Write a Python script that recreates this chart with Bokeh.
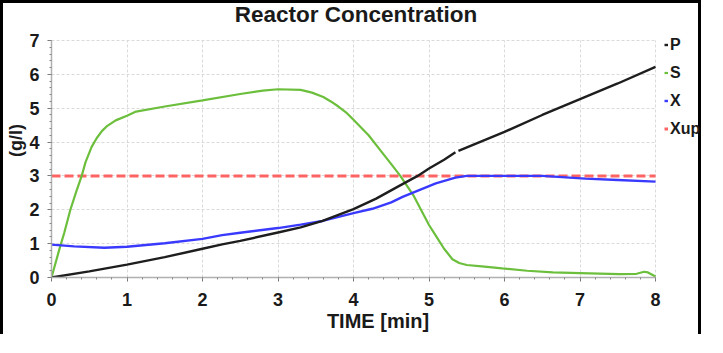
import numpy as np
from bokeh.plotting import figure
from bokeh.models import Range1d, Legend, LegendItem, SingleIntervalTicker, Label, Grid
from bokeh.embed import file_html
from bokeh.resources import INLINE

# ---- data ----
t_P = [0, 0.5, 1, 1.5, 2, 2.26, 2.5, 3, 3.3, 3.59, 4, 4.3, 4.6, 4.85, 5.0, 5.2, 5.35,
       5.37, 5.39, 6, 6.5, 7, 7.5, 8]
P = [0, 0.18, 0.38, 0.6, 0.85, 0.98, 1.08, 1.33, 1.48, 1.67, 2.02, 2.33, 2.7, 3.0, 3.22,
     3.48, 3.7, float("nan"), 3.74, 4.3, 4.8, 5.27, 5.73, 6.22]

t_S = [0, 0.1, 0.17, 0.25, 0.33, 0.4, 0.45, 0.53, 0.6, 0.67, 0.74, 0.85, 1.0, 1.12, 1.5,
       2.0, 2.5, 2.8, 3.0, 3.3, 3.45, 3.6, 3.7, 3.8, 3.9, 3.99, 4.2, 4.38, 4.5, 4.62, 4.8,
       5.0, 5.1, 5.2, 5.31, 5.4, 5.5, 5.7, 5.97, 6.3, 6.64, 7.0, 7.52, 7.75, 7.85, 7.9, 8.0]
S = [0, 0.8, 1.33, 2.0, 2.55, 3.0, 3.4, 3.85, 4.12, 4.33, 4.48, 4.64, 4.78, 4.9, 5.05,
     5.23, 5.42, 5.52, 5.56, 5.54, 5.46, 5.33, 5.2, 5.05, 4.88, 4.68, 4.2, 3.69, 3.35, 3.0,
     2.4, 1.55, 1.2, 0.85, 0.54, 0.43, 0.37, 0.33, 0.27, 0.2, 0.15, 0.13, 0.1, 0.11, 0.17,
     0.15, 0.03]

t_X = [0, 0.3, 0.7, 1, 1.5, 2, 2.26, 2.5, 3, 3.3, 3.59, 4, 4.25, 4.5, 4.65, 5.09, 5.35,
       5.5, 6.5, 7.07, 7.5, 8]
X = [0.97, 0.92, 0.88, 0.91, 1.01, 1.14, 1.25, 1.32, 1.46, 1.56, 1.67, 1.9, 2.03, 2.22,
     2.38, 2.78, 2.95, 3.0, 3.0, 2.92, 2.88, 2.83]

t_Xup = [0, 8]
Xup = [3, 3]

series_names = ["P", "S", "X", "Xup"]
series_colors = ["#1e1e1e", "#6cbf3c", "#3a3aff", "#ff4a4a"]

x_lim = (0, 8)
y_lim = (0, 7)
title_text = "Reactor Concentration"
x_label = "TIME [min]"
y_label = "(g/l)"

FONT = "Liberation Sans"

# ---- layout (pixels) ----
W, H = 701, 334
ML, MB = 48, 60
PX_X = 75.5      # px per x unit
PX_Y = 33.86     # px per y unit
x_end = (W - ML) / PX_X           # frame runs to the right edge; room for the legend
y_end = (H - MB) / PX_Y           # frame runs to the top edge; room for the title

p = figure(width=W, height=H, x_range=Range1d(0, x_end), y_range=Range1d(0, y_end),
           output_backend="svg", toolbar_location=None,
           min_border_left=ML, min_border_right=0, min_border_top=0, min_border_bottom=MB)
p.styles = {"border-top": "3px solid #000", "border-left": "3px solid #000",
            "border-right": "3px solid #000"}

p.outline_line_color = None
p.background_fill_color = "white"
p.border_fill_color = "white"

for ax, lim in ((p.xaxis[0], x_lim), (p.yaxis[0], y_lim)):
    ax.bounds = lim
    ax.ticker = SingleIntervalTicker(interval=1, num_minor_ticks=5)
    ax.axis_line_color = "#b0b0b0"
    ax.axis_line_width = 1.5
    ax.major_tick_line_color = "#777777"
    ax.minor_tick_line_color = "#888888"
    ax.major_tick_in = 0
    ax.major_tick_out = 4
    ax.minor_tick_in = 0
    ax.minor_tick_out = 2
    ax.major_label_text_font = FONT
    ax.major_label_text_font_size = "18px"
    ax.major_label_text_font_style = "bold"
    ax.major_label_text_color = "#1a1a1a"
    ax.axis_label_text_font = FONT
    ax.axis_label_text_font_style = "bold"
    ax.axis_label_text_color = "#1a1a1a"

p.xaxis.axis_label = x_label
p.xaxis.axis_label_text_font_size = "20px"
p.xaxis.major_label_standoff = 11
p.xaxis.axis_label_standoff = 1
p.yaxis.axis_label = y_label
p.yaxis.axis_label_text_font_size = "18px"
p.yaxis.major_label_standoff = 8
p.yaxis.axis_label_standoff = 0

grid_ok = "cross_bounds" in Grid.properties()
for g, lim, cross in ((p.xgrid[0], x_lim, y_lim), (p.ygrid[0], y_lim, x_lim)):
    g.ticker = SingleIntervalTicker(interval=1)
    g.grid_line_color = "#dadada"
    g.grid_line_dash = "3 2"
    g.grid_line_width = 1
    g.bounds = lim
    if grid_ok:
        g.cross_bounds = cross
    else:
        g.visible = False
if not grid_ok:
    xt = list(range(x_lim[0] + 1, x_lim[1] + 1))
    yt = list(range(y_lim[0] + 1, y_lim[1] + 1))
    p.multi_line([[v, v] for v in xt] + [list(x_lim) for _ in yt],
                 [list(y_lim) for _ in xt] + [[v, v] for v in yt],
                 line_color="#dadada", line_dash="3 2", line_width=1)

r_up = p.line(t_Xup, Xup, color=series_colors[3], line_width=3, line_dash="9 4", line_alpha=0.85)
r_s = p.line(t_S, S, color=series_colors[1], line_width=2.2)
r_x = p.line(t_X, X, color=series_colors[2], line_width=2.4)
r_p = p.line(t_P, P, color=series_colors[0], line_width=2.4)

# title (inside the extended frame, above y = 7)
p.add_layout(Label(x=304.5, y=263, x_units="screen", y_units="screen", text=title_text,
                   text_font=FONT, text_font_size="22.5px", text_font_style="bold",
                   text_color="#1a1a1a", text_align="center", text_baseline="middle"))

legend = Legend(
    items=[LegendItem(label=n, renderers=[r]) for n, r in zip(series_names, [r_p, r_s, r_x, r_up])],
    location=(613, 139), orientation="vertical",
    margin=0, padding=0, spacing=9, label_height=19, glyph_height=19, glyph_width=4,
    label_standoff=2, border_line_color=None, background_fill_alpha=0,
    label_text_font=FONT, label_text_font_size="16px", label_text_font_style="bold",
    label_text_color="#1a1a1a",
)
p.add_layout(legend, "center")

open("out.html", "w").write(file_html(p, INLINE))
